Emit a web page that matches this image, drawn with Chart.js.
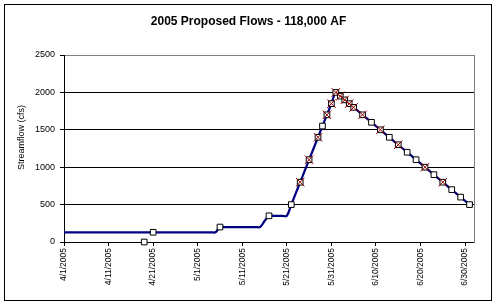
<!DOCTYPE html>
<html><head><meta charset="utf-8">
<script src="https://cdn.jsdelivr.net/npm/chart.js@4.4.1/dist/chart.umd.min.js"></script>
<style>html,body{margin:0;padding:0;background:#fff}#wrap{width:497px;height:305px}</style>
</head><body>
<div id="wrap"><canvas id="c" width="497" height="305"></canvas></div>
<script>
const chartTitle = '2005 Proposed Flows - 118,000 AF';
const yAxisTitle = 'Streamflow (cfs)';
const axisStart = '4/1/2005';
const axisEnd = '7/2/2005';
const xTickDates = ['4/1/2005','4/11/2005','4/21/2005','5/1/2005','5/11/2005','5/21/2005','5/31/2005','6/10/2005','6/20/2005','6/30/2005'];
const yTickValues = [0, 500, 1000, 1500, 2000, 2500];

// daily flow line, one value per day starting 4/1/2005
const dailyStart = '4/1/2005';
const dailyFlow = [
  130,130,130,130,130,130,130,130,130,130,
  130,130,130,130,130,130,130,130,130,130,
  130,130,130,130,130,130,130,130,130,130,
  130,130,130,130,130,
  200,200,200,200,200,200,200,200,200,200,
  280,
  350,350,350,350,350,
  500,650,800,950,1100,1250,1400,1550,1700,1850,2000,
  1950,1900,1850,1800,1750,1700,1650,1600,1550,1500,
  1450,1400,1350,1300,1250,1200,1150,1100,1050,1000,
  950,900,850,800,750,700,650,600,550,500
];

// square markers
const squareDates = ['4/19/2005','4/21/2005','5/6/2005','5/17/2005','5/22/2005','5/24/2005','5/26/2005','5/28/2005','5/29/2005','5/30/2005','5/31/2005','6/1/2005','6/2/2005','6/3/2005','6/4/2005','6/5/2005','6/7/2005','6/9/2005','6/11/2005','6/13/2005','6/15/2005','6/17/2005','6/19/2005','6/21/2005','6/23/2005','6/25/2005','6/27/2005','6/29/2005','7/1/2005'];
const squareFlow = [0,130,200,350,500,800,1100,1400,1550,1700,1850,2000,1950,1900,1850,1800,1700,1600,1500,1400,1300,1200,1100,1000,900,800,700,600,500];

// red x markers
const crossDates = ['5/24/2005','5/26/2005','5/28/2005','5/30/2005','5/31/2005','6/1/2005','6/2/2005','6/3/2005','6/4/2005','6/5/2005','6/7/2005','6/11/2005','6/15/2005','6/21/2005','6/25/2005'];
const crossFlow = [800,1100,1400,1700,1850,2000,1950,1900,1850,1800,1700,1500,1300,1000,800];

const FONT = '"Liberation Sans", Arial, sans-serif';
function toUTC(s){ const [m,d,y] = s.split('/').map(Number); return Date.UTC(y, m-1, d); }
const base = toUTC(axisStart);
function dayOf(s){ return Math.round((toUTC(s) - base) / 86400000); }
function labelOf(day){ const dt = new Date(base + day * 86400000); return (dt.getUTCMonth()+1) + '/' + dt.getUTCDate() + '/' + dt.getUTCFullYear(); }

const dailyOffset = dayOf(dailyStart);
const lineData = dailyFlow.map((v,i) => ({x: dailyOffset + i, y: v}));
const squareData = squareDates.map((d,i) => ({x: dayOf(d), y: squareFlow[i]}));
const crossData = crossDates.map((d,i) => ({x: dayOf(d), y: crossFlow[i]}));

const decor = {
  id: 'decor',
  afterDraw(chart){
    const c = chart.ctx;
    c.save();
    c.strokeStyle = '#000'; c.lineWidth = 1;
    c.strokeRect(4.5, 4.5, 487, 296);
    c.translate(22, 137.5); c.rotate(-Math.PI/2);
    c.font = '9px ' + FONT; c.textAlign = 'center'; c.textBaseline = 'middle'; c.fillStyle = '#000';
    c.fillText(yAxisTitle, 0, 0);
    c.restore();
  }
};

new Chart(document.getElementById('c'), {
  type: 'line',
  data: { datasets: [
    { label: 'Flow', data: lineData, borderColor: '#000080', backgroundColor: '#000080', borderWidth: 2.25, pointRadius: 0, tension: 0.35, fill: false, order: 3, clip: false },
    { label: 'Points', data: squareData, showLine: false, pointStyle: 'rect', pointRadius: 4, pointBackgroundColor: '#fff', pointBorderColor: '#000', pointBorderWidth: 1, order: 2, clip: false },
    { label: 'Marked', data: crossData, showLine: false, pointStyle: 'crossRot', pointRadius: 6, pointBorderColor: '#8b0000', pointBackgroundColor: '#8b0000', pointBorderWidth: 1, order: 1, clip: false }
  ]},
  options: {
    responsive: false, animation: false, events: [],
    layout: { padding: { top: 0, left: 0, right: 0, bottom: 0 } },
    plugins: {
      legend: { display: false }, tooltip: { enabled: false },
      title: { display: true, text: chartTitle, color: '#000', font: { family: FONT, size: 12, weight: 'bold' }, padding: { top: 14, bottom: 26.6 } }
    },
    scales: {
      x: {
        type: 'linear', position: 'bottom', min: 0, max: dayOf(axisEnd),
        afterBuildTicks(s){ s.ticks = xTickDates.map(d => ({value: dayOf(d)})); },
        ticks: { autoSkip: false, minRotation: 90, maxRotation: 90, padding: 2, color: '#000', font: { family: FONT, size: 8.5 }, callback: v => labelOf(v) },
        grid: { drawOnChartArea: false, drawTicks: true, tickLength: 4, tickColor: '#000', color: '#000' },
        border: { display: true, color: '#000', width: 1 },
        afterFit(s){ s.height = 63; }
      },
      y: {
        type: 'linear', position: 'left', min: 0, max: 2500,
        afterBuildTicks(s){ s.ticks = yTickValues.map(v => ({value: v})); },
        ticks: { padding: 5, color: '#000', font: { family: FONT, size: 9 }, callback: v => String(v) },
        grid: { color: ctx => (ctx.tick && ctx.tick.value === 2500) ? '#808080' : '#000', lineWidth: 1, drawTicks: true, tickLength: 4, tickColor: '#000' },
        border: { display: true, color: '#000', width: 1 },
        afterFit(s){ s.width = 64; }
      },
      yr: {
        type: 'linear', position: 'right', min: 0, max: 2500, display: true,
        ticks: { display: false }, grid: { display: false, drawOnChartArea: false, drawTicks: false },
        border: { display: true, color: '#808080', width: 1 },
        afterFit(s){ s.width = 23; }
      }
    }
  },
  plugins: [decor]
});
</script>
</body></html>
